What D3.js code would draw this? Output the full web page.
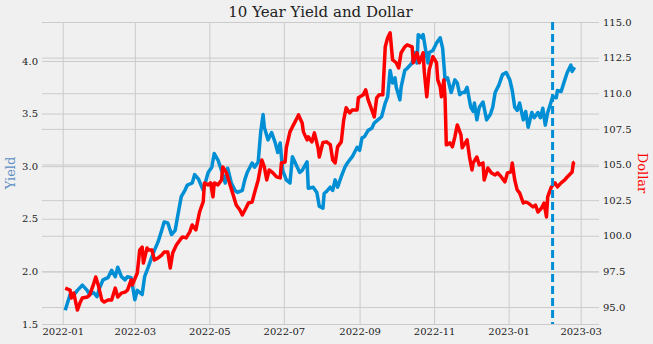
<!DOCTYPE html>
<html>
<head>
<meta charset="utf-8">
<script src="https://cdn.jsdelivr.net/npm/d3@7"></script>
<style>
  html, body { margin: 0; padding: 0; background: #f0f0f0; }
  svg { display: block; }
  text { font-family: "DejaVu Serif", serif; }
</style>
</head>
<body>
<svg id="chart" width="653" height="344"></svg>
<script>
// 10-year Treasury yield (%), sampled dates
const yieldDates = [
  "2022-01-03","2022-01-07","2022-01-09","2022-01-13","2022-01-17","2022-01-21","2022-01-23","2022-01-26","2022-01-29","2022-01-31",
  "2022-02-03","2022-02-07","2022-02-10","2022-02-13","2022-02-15","2022-02-18","2022-02-21","2022-02-23","2022-02-26",
  "2022-03-01","2022-03-03","2022-03-07","2022-03-09","2022-03-12","2022-03-15","2022-03-17","2022-03-20","2022-03-23","2022-03-25","2022-03-28","2022-03-31",
  "2022-04-03","2022-04-05","2022-04-08","2022-04-11","2022-04-13","2022-04-17","2022-04-19","2022-04-22","2022-04-26","2022-04-30",
  "2022-05-03","2022-05-05","2022-05-08","2022-05-11","2022-05-14","2022-05-16","2022-05-19","2022-05-22","2022-05-24","2022-05-28","2022-05-30",
  "2022-06-01","2022-06-05","2022-06-07","2022-06-10","2022-06-12","2022-06-14","2022-06-15","2022-06-18","2022-06-21","2022-06-24","2022-06-26","2022-06-28","2022-06-30",
  "2022-07-03","2022-07-06","2022-07-08","2022-07-12","2022-07-14","2022-07-16","2022-07-20","2022-07-21","2022-07-25","2022-07-28","2022-07-30",
  "2022-08-02","2022-08-03","2022-08-05","2022-08-08","2022-08-10","2022-08-12","2022-08-14","2022-08-17","2022-08-20","2022-08-22","2022-08-26","2022-08-30",
  "2022-09-01","2022-09-03","2022-09-05","2022-09-08","2022-09-11","2022-09-13","2022-09-16","2022-09-19","2022-09-22","2022-09-24","2022-09-26","2022-09-28","2022-09-30",
  "2022-10-01","2022-10-04","2022-10-05","2022-10-08","2022-10-10","2022-10-14","2022-10-16","2022-10-18","2022-10-19","2022-10-22","2022-10-23","2022-10-26","2022-10-27","2022-10-28","2022-10-31",
  "2022-11-03","2022-11-06","2022-11-08","2022-11-10","2022-11-12","2022-11-15","2022-11-18","2022-11-20","2022-11-22","2022-11-24","2022-11-26","2022-11-28",
  "2022-12-01","2022-12-03","2022-12-04","2022-12-06","2022-12-08","2022-12-11","2022-12-14","2022-12-17","2022-12-19","2022-12-21","2022-12-24","2022-12-27","2022-12-30",
  "2023-01-02","2023-01-04","2023-01-06","2023-01-08","2023-01-10","2023-01-13","2023-01-15","2023-01-17","2023-01-20","2023-01-22","2023-01-25","2023-01-27","2023-01-29","2023-01-31",
  "2023-02-02","2023-02-04","2023-02-06","2023-02-09","2023-02-10","2023-02-13","2023-02-16","2023-02-18","2023-02-21","2023-02-22","2023-02-24"
];
const yieldValues = [
  1.63,1.78,1.76,1.82,1.87,1.82,1.78,1.80,1.76,1.84,
  1.92,1.94,2.01,1.95,2.04,1.95,1.92,1.95,1.94,
  1.73,1.82,1.78,1.95,2.04,2.14,2.20,2.28,2.39,2.47,2.46,2.35,
  2.39,2.52,2.71,2.77,2.82,2.84,2.92,2.88,2.77,2.94,
  2.99,3.12,3.06,2.96,2.84,2.98,2.84,2.77,2.75,2.77,2.87,
  2.94,3.03,2.99,3.04,3.32,3.49,3.37,3.25,3.32,3.22,3.13,3.22,2.96,
  2.87,2.84,3.09,2.99,2.94,2.96,3.04,2.79,2.80,2.75,2.62,
  2.60,2.74,2.76,2.80,2.77,2.87,2.80,2.90,2.99,3.03,3.09,3.18,
  3.15,3.27,3.28,3.34,3.36,3.41,3.44,3.47,3.60,3.66,3.91,3.79,3.84,
  3.75,3.63,3.75,3.91,3.93,3.98,4.08,3.98,4.25,4.22,4.25,4.04,3.98,4.08,4.10,
  4.17,4.22,4.12,3.82,3.84,3.70,3.82,3.79,3.68,3.70,3.70,3.75,
  3.56,3.52,3.60,3.44,3.56,3.61,3.44,3.49,3.56,3.70,3.77,3.87,3.89,
  3.82,3.72,3.56,3.53,3.60,3.44,3.52,3.37,3.51,3.46,3.51,3.46,3.55,3.39,
  3.51,3.58,3.66,3.65,3.72,3.71,3.82,3.89,3.96,3.90,3.94
];

// US dollar index, sampled dates
const dollarDates = [
  "2022-01-03","2022-01-07","2022-01-08","2022-01-10","2022-01-13","2022-01-15","2022-01-17","2022-01-21","2022-01-23","2022-01-26","2022-01-28","2022-01-30",
  "2022-02-02","2022-02-04","2022-02-07","2022-02-10","2022-02-13","2022-02-15","2022-02-18","2022-02-21","2022-02-23","2022-02-26","2022-02-27",
  "2022-03-03","2022-03-05","2022-03-07","2022-03-08","2022-03-11","2022-03-12","2022-03-15","2022-03-17","2022-03-20","2022-03-23","2022-03-25","2022-03-28","2022-03-30",
  "2022-04-01","2022-04-04","2022-04-07","2022-04-09","2022-04-12","2022-04-15","2022-04-17","2022-04-20","2022-04-22","2022-04-23","2022-04-26","2022-04-27","2022-04-30",
  "2022-05-02","2022-05-04","2022-05-05","2022-05-08","2022-05-11","2022-05-12","2022-05-15","2022-05-18","2022-05-20","2022-05-23","2022-05-26","2022-05-28","2022-05-31",
  "2022-06-02","2022-06-05","2022-06-07","2022-06-10","2022-06-13","2022-06-15","2022-06-17","2022-06-19","2022-06-22","2022-06-25","2022-06-28","2022-06-29",
  "2022-07-02","2022-07-03","2022-07-06","2022-07-08","2022-07-11","2022-07-13","2022-07-16","2022-07-17","2022-07-20","2022-07-21","2022-07-24","2022-07-26","2022-07-29","2022-07-30",
  "2022-08-02","2022-08-05","2022-08-08","2022-08-10","2022-08-12","2022-08-14","2022-08-17","2022-08-19","2022-08-21","2022-08-24","2022-08-26","2022-08-30","2022-08-31",
  "2022-09-04","2022-09-06","2022-09-08","2022-09-11","2022-09-13","2022-09-15","2022-09-17","2022-09-20","2022-09-22","2022-09-24","2022-09-26","2022-09-28",
  "2022-10-01","2022-10-03","2022-10-05","2022-10-08","2022-10-10","2022-10-14","2022-10-15","2022-10-18","2022-10-20","2022-10-23","2022-10-24","2022-10-26","2022-10-28","2022-10-31",
  "2022-11-03","2022-11-04","2022-11-06","2022-11-07","2022-11-09","2022-11-10","2022-11-11","2022-11-14","2022-11-16","2022-11-18","2022-11-20","2022-11-23","2022-11-24","2022-11-28","2022-11-30",
  "2022-12-02","2022-12-03","2022-12-06","2022-12-08","2022-12-11","2022-12-12","2022-12-15","2022-12-18","2022-12-21","2022-12-23","2022-12-26","2022-12-29","2022-12-31",
  "2023-01-03","2023-01-04","2023-01-06","2023-01-08","2023-01-10","2023-01-13","2023-01-15","2023-01-17","2023-01-21","2023-01-23","2023-01-25","2023-01-28","2023-01-30",
  "2023-02-01","2023-02-02","2023-02-05","2023-02-08","2023-02-10","2023-02-13","2023-02-16","2023-02-18","2023-02-22","2023-02-23","2023-02-24"
];
const dollarValues = [
  96.33,96.19,95.63,95.98,94.79,95.28,95.63,95.70,95.84,96.55,97.11,96.55,
  95.49,95.35,95.49,95.49,96.33,95.70,95.98,96.05,96.19,96.90,96.55,
  97.39,99.00,99.21,98.09,99.14,99.00,99.00,98.30,98.44,98.65,98.86,98.86,97.74,
  98.79,99.35,99.71,99.92,99.85,100.27,100.76,100.41,101.25,101.67,102.40,103.71,103.57,
  103.71,102.73,103.71,103.57,103.92,104.83,104.41,103.57,103.01,102.16,101.81,101.46,101.95,
  102.30,102.37,103.01,103.92,105.32,104.83,103.92,104.62,104.41,104.13,104.06,105.11,
  105.18,106.17,107.29,107.64,108.13,108.48,107.92,107.29,106.73,106.94,106.59,107.22,106.17,105.53,
  106.55,106.59,106.40,105.32,105.11,106.24,106.59,108.13,108.98,108.62,108.83,108.83,109.68,
  109.89,110.24,109.54,108.83,108.34,109.68,109.89,109.89,113.26,113.89,114.24,112.35,
  112.14,111.78,112.84,113.26,113.40,113.26,112.14,112.84,112.14,112.84,111.50,109.75,111.64,112.56,
  112.14,110.94,110.45,109.75,110.94,109.60,106.38,106.52,106.24,106.94,107.78,107.08,106.17,106.73,105.53,
  104.62,105.11,105.53,104.97,105.11,103.92,104.76,104.41,104.27,104.41,104.13,103.78,104.41,
  104.48,105.11,103.92,103.22,103.01,102.30,102.37,102.30,102.02,102.16,101.67,101.95,102.30,
  101.32,102.73,103.43,103.71,103.43,103.71,103.92,104.13,104.48,105.11,105.18
];

const xTickLabels = ["2022-01","2022-03","2022-05","2022-07","2022-09","2022-11","2023-01","2023-03"];
const yieldTicks = [1.5, 2.0, 2.5, 3.0, 3.5, 4.0];
const dollarTicks = [95.0, 97.5, 100.0, 102.5, 105.0, 107.5, 110.0, 112.5, 115.0];
const markerDate = "2023-02-06";

const parse = d3.timeParse("%Y-%m-%d");
const parseMonth = d3.timeParse("%Y-%m");
const yieldData = yieldDates.map((d, i) => ({ date: parse(d), value: yieldValues[i] }));
const dollarData = dollarDates.map((d, i) => ({ date: parse(d), value: dollarValues[i] }));

const svg = d3.select("#chart");
const plot = { left: 42, right: 599, top: 22, bottom: 324 };
const gridColor = "#cbcbcb";
const blue = "#008fd5", red = "#ff0000";

const x = d3.scaleTime()
  .domain([parse("2021-12-15"), parse("2023-03-16")])
  .range([plot.left, plot.right]);
const yL = d3.scaleLinear().domain([1.5, 4.37]).range([plot.bottom, plot.top]);
const yR = d3.scaleLinear().domain([93.81, 115.0]).range([plot.bottom, plot.top]);

svg.append("rect").attr("width", 653).attr("height", 344).attr("fill", "#f0f0f0");

function styleAxis(g) {
  g.select(".domain").remove();
  g.selectAll("line").attr("stroke", gridColor).attr("stroke-width", 1);
  g.selectAll("text").attr("font-size", 10).attr("fill", "#222");
}

// x axis with vertical gridlines
const xAxis = d3.axisBottom(x)
  .tickValues(xTickLabels.map(parseMonth))
  .tickFormat(d3.timeFormat("%Y-%m"))
  .tickSize(-(plot.bottom - plot.top))
  .tickPadding(4);
svg.append("g").attr("transform", `translate(0,${plot.bottom})`).call(xAxis).call(styleAxis);

// left (yield) axis
const yAxisL = d3.axisLeft(yL)
  .tickValues(yieldTicks)
  .tickFormat(d3.format(".1f"))
  .tickSize(-(plot.right - plot.left))
  .tickPadding(4);
svg.append("g").attr("transform", `translate(${plot.left},0)`).call(yAxisL).call(styleAxis);

// right (dollar) axis
const yAxisR = d3.axisRight(yR)
  .tickValues(dollarTicks)
  .tickFormat(d3.format(".1f"))
  .tickSize(-(plot.right - plot.left))
  .tickPadding(4);
svg.append("g").attr("transform", `translate(${plot.right},0)`).call(yAxisR).call(styleAxis);

// series lines
const lineL = d3.line().x(d => x(d.date)).y(d => yL(d.value));
const lineR = d3.line().x(d => x(d.date)).y(d => yR(d.value));

svg.append("path").datum(yieldData)
  .attr("d", lineL).attr("fill", "none")
  .attr("stroke", blue).attr("stroke-width", 3.5).attr("stroke-linejoin", "round");

svg.append("path").datum(dollarData)
  .attr("d", lineR).attr("fill", "none")
  .attr("stroke", red).attr("stroke-width", 3.5).attr("stroke-linejoin", "round");

// vertical dashed marker
svg.append("line")
  .attr("x1", x(parse(markerDate))).attr("x2", x(parse(markerDate)))
  .attr("y1", plot.top).attr("y2", plot.bottom)
  .attr("stroke", blue).attr("stroke-width", 3)
  .attr("stroke-dasharray", "8,4");

// title and axis labels
svg.append("text")
  .attr("x", (plot.left + plot.right) / 2).attr("y", 17)
  .attr("text-anchor", "middle")
  .attr("font-size", 15).attr("fill", "#222")
  .text("10 Year Yield and Dollar");

svg.append("text")
  .attr("transform", `translate(15,${(plot.top + plot.bottom) / 2}) rotate(-90)`)
  .attr("text-anchor", "middle")
  .attr("font-size", 13).attr("fill", "#5b8ec4")
  .text("Yield");

svg.append("text")
  .attr("transform", `translate(638,${(plot.top + plot.bottom) / 2}) rotate(90)`)
  .attr("text-anchor", "middle")
  .attr("font-size", 13).attr("fill", red)
  .text("Dollar");
</script>
</body>
</html>
